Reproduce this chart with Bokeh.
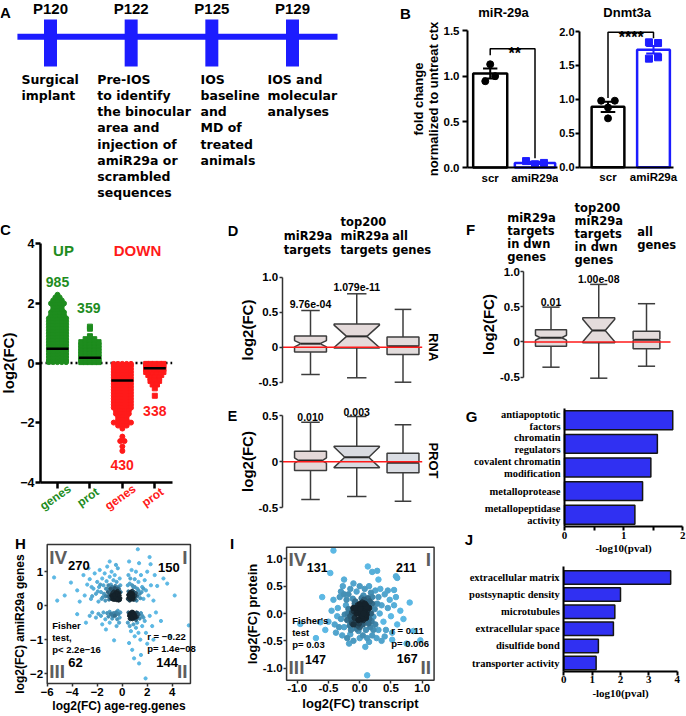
import numpy as np
from bokeh.plotting import figure
from bokeh.layouts import row, column
from bokeh.models import (Range1d, FixedTicker, Label, LabelSet, ColumnDataSource,
                          NumeralTickFormatter, LinearAxis)
from bokeh.core.properties import value, field
from bokeh.embed import file_html
from bokeh.resources import INLINE

SANS = "Liberation Sans"
VERD = "DejaVu Sans"
SERIF = "Liberation Serif"
GREEN = "#1e8c1e"
RED = "#ff1a1a"
BLUE = "#1c1cff"
BARBLUE = "#3030f2"
ROMAN = "#5e5e5e"

# ======================= DATA =======================
A_days = ["P120", "P122", "P125", "P129"]
A_steps = ["Surgical\nimplant",
           "Pre-IOS\nto identify\nthe binocular\narea and\ninjection of\namiR29a or\nscrambled\nsequences",
           "IOS\nbaseline\nand\nMD of\ntreated\nanimals",
           "IOS and\nmolecular\nanalyses"]

B_groups = ["scr", "amiR29a"]
B_mir_mean = [1.03, 0.05]
B_mir_sem = [0.055, 0.012]
B_mir_pts = [[1.13, 0.945, 1.00], [0.07, 0.035, 0.05]]
B_mir_sig = "**"
B_dnmt_mean = [0.89, 1.73]
B_dnmt_sem = [0.075, 0.056]
B_dnmt_pts = [[0.98, 0.98, 0.72, 0.88], [1.84, 1.83, 1.60, 1.62]]
B_dnmt_sig = "****"

C_labels = ["genes", "prot", "genes", "prot"]
C_counts = [985, 359, 430, 338]
C_medians = [0.48, 0.18, -0.59, -0.18]
C_up_genes_lv = [0.03, 0.1, 0.2, 0.3, 0.4, 0.5, 0.6, 0.7, 0.8, 0.9, 1.0, 1.1, 1.2, 1.3, 1.4, 1.5,
                 1.6, 1.7, 1.8, 1.9, 2.0, 2.1, 2.2, 2.29]
C_up_genes_n = [5, 5, 5, 5, 5, 5, 5, 5, 5, 5, 5, 5, 5, 5, 5, 5, 4, 4, 3, 3, 4, 3, 2, 1]
C_up_prot_lv = [0.03, 0.1, 0.2, 0.3, 0.4, 0.5, 0.6, 0.7, 0.8, 0.9, 1.15, 1.22]
C_up_prot_n = [5, 5, 5, 5, 5, 5, 5, 5, 3, 1, 1, 1]
C_dn_genes_lv = [-0.03, -0.1, -0.2, -0.3, -0.4, -0.5, -0.6, -0.7, -0.8, -0.9, -1.0, -1.1, -1.2,
                 -1.3, -1.4, -1.5, -1.6, -1.7, -1.8, -1.9, -2.0, -2.1, -2.2, -2.47, -2.62, -2.8, -2.95]
C_dn_genes_n = [5, 5, 5, 5, 5, 5, 5, 5, 5, 5, 5, 5, 5, 5, 5, 5, 4, 4, 3, 3, 5, 3, 1, 1, 2, 1, 1]
C_dn_prot_lv = [-0.03, -0.1, -0.2, -0.3, -0.4, -0.5, -0.6, -0.72, -0.85, -1.1]
C_dn_prot_n = [5, 5, 5, 5, 4, 3, 3, 2, 1, 1]

D_heads = ["miR29a\ntargets", "top200\nmiR29a\ntargets", "all\ngenes"]
D_pvals = ["9.76e-04", "1.079e-11", ""]
D_lo = [-0.39, -0.437, -0.50]
D_q1 = [-0.07, -0.01, -0.104]
D_med = [0.05, 0.155, 0.014]
D_q3 = [0.16, 0.33, 0.145]
D_hi = [0.524, 0.763, 0.54]
D_notch = [0.045, 0.16, 0.012]

E_pvals = ["0.010", "0.003", ""]
E_lo = [-0.41, -0.378, -0.43]
E_q1 = [-0.096, -0.067, -0.121]
E_med = [0.012, 0.048, -0.013]
E_q3 = [0.113, 0.167, 0.092]
E_hi = [0.427, 0.489, 0.399]
E_notch = [0.028, 0.11, 0.01]

F_heads = ["miR29a\ntargets\nin dwn\ngenes", "top200\nmiR29a\ntargets\nin dwn\ngenes", "all\ngenes"]
F_pvals = ["0.01", "1.00e-08", ""]
F_lo = [-0.358, -0.514, -0.344]
F_q1 = [-0.06, -0.011, -0.097]
F_med = [0.06, 0.163, 0.031]
F_q3 = [0.173, 0.344, 0.153]
F_hi = [0.494, 0.817, 0.543]
F_notch = [0.035, 0.16, 0.012]

G_terms = ["antiapoptotic\nfactors", "chromatin\nregulators", "covalent chromatin\nmodification",
           "metalloprotease", "metallopeptidase\nactivity"]
G_vals = [1.83, 1.57, 1.46, 1.32, 1.19]
J_terms = ["extracellular matrix", "postsynaptic density", "microtubules",
           "extracellular space", "disulfide bond", "transporter activity"]
J_vals = [3.77, 2.0, 1.80, 1.75, 1.22, 1.14]

H_quad_counts = ["270", "150", "144", "62"]
H_IV = [(-0.15, 0.22), (-0.2, 0.3), (-0.25, 0.18), (-0.3, 0.26), (-0.32, 0.35), (-0.35, 0.2), (-0.4, 0.28),
        (-0.42, 0.16), (-0.45, 0.33), (-0.48, 0.24), (-0.5, 0.4), (-0.52, 0.19), (-0.55, 0.29), (-0.58, 0.22),
        (-0.6, 0.35), (-0.62, 0.17), (-0.65, 0.27), (-0.68, 0.42), (-0.7, 0.21), (-0.72, 0.31), (-0.75, 0.18),
        (-0.78, 0.25), (-0.8, 0.37), (-0.85, 0.2), (-0.88, 0.3), (-0.9, 0.45), (-0.95, 0.24), (-1.0, 0.33),
        (-1.05, 0.18), (-1.1, 0.28), (-1.15, 0.4), (-0.22, 0.38), (-0.38, 0.44), (-0.28, 0.15), (-0.44, 0.22),
        (-0.36, 0.3), (-0.26, 0.25), (-0.18, 0.17), (-0.33, 0.21), (-0.47, 0.29), (-0.41, 0.37), (-0.56, 0.25),
        (-0.63, 0.31), (-0.29, 0.32), (-0.39, 0.19),
        (-5.45, 0.83), (-5.2, 0.15), (-4.1, 0.68), (-3.6, 0.45), (-3.1, 0.9), (-3.0, 0.3), (-2.8, 0.62),
        (-2.6, 0.78), (-2.5, 0.2), (-2.3, 0.5), (-2.2, 0.95), (-2.1, 0.35), (-2.0, 0.7), (-1.9, 0.12),
        (-1.85, 0.55), (-1.8, 1.05), (-1.7, 0.4), (-1.6, 0.8), (-1.55, 0.25), (-1.5, 0.6), (-1.4, 0.95),
        (-1.35, 0.15), (-1.3, 0.5), (-1.25, 0.72), (-1.2, 1.15), (-1.1, 0.6), (-1.0, 0.85), (-0.9, 0.62),
        (-0.85, 1.0), (-0.8, 0.55), (-0.7, 0.75), (-0.6, 0.9), (-0.55, 0.58), (-0.45, 0.7), (-0.35, 1.1),
        (-0.3, 0.55), (-0.2, 0.8), (-0.15, 0.6), (-4.6, 0.3), (-3.4, 0.12), (-2.7, 1.1), (-1.0, 1.3), (-0.5, 1.2),
        (-2.4, 0.28), (-1.95, 0.42), (-1.65, 0.2), (-1.45, 0.35), (-1.3, 0.28), (-1.2, 0.5), (-0.95, 0.5),
        (-0.75, 0.48), (-0.6, 0.52), (-0.4, 0.5), (-0.25, 0.48), (-0.12, 0.4), (-1.75, 0.62), (-2.45, 0.55)]
H_I = [(0.45, 0.2), (0.48, 0.32), (0.5, 0.42), (0.52, 0.25), (0.55, 0.17), (0.58, 0.36), (0.6, 0.28),
       (0.62, 0.21), (0.65, 0.4), (0.68, 0.3), (0.7, 0.18), (0.72, 0.25), (0.75, 0.35), (0.78, 0.22),
       (0.8, 0.44), (0.82, 0.29), (0.85, 0.19), (0.88, 0.33), (0.9, 0.24), (0.95, 0.4), (1.0, 0.2),
       (1.05, 0.3), (1.1, 0.37), (0.56, 0.3), (0.66, 0.23), (0.74, 0.42), (0.84, 0.37), (0.6, 0.15),
       (0.7, 0.34), (0.92, 0.17),
       (1.25, 1.66), (2.19, 1.43), (2.27, 1.22), (3.6, 0.65), (2.8, 0.58), (3.3, 0.8), (0.5, 0.9),
       (0.6, 0.65), (0.75, 1.05), (0.9, 0.55), (1.0, 0.78), (1.1, 1.0), (1.2, 0.5), (1.3, 0.7), (1.4, 0.35),
       (1.5, 0.9), (1.6, 0.55), (1.7, 0.2), (1.8, 0.75), (1.9, 0.45), (2.0, 1.0), (2.1, 0.3), (2.3, 0.6),
       (2.5, 0.15), (1.35, 1.25), (0.55, 1.3), (0.45, 0.6), (1.15, 0.15), (2.6, 0.9), (4.2, 0.3),
       (1.2, 0.28), (1.3, 0.45), (1.45, 0.22), (1.55, 0.4), (1.0, 0.55), (0.8, 0.6), (0.65, 0.8), (1.7, 0.5)]
H_II = [(0.5, -0.2), (0.55, -0.3), (0.6, -0.38), (0.65, -0.22), (0.7, -0.28), (0.72, -0.35), (0.75, -0.18),
        (0.8, -0.26), (0.82, -0.4), (0.85, -0.31), (0.9, -0.2), (0.95, -0.36), (1.0, -0.25), (1.05, -0.3),
        (1.1, -0.42), (1.15, -0.2), (1.2, -0.33), (1.3, -0.27), (1.4, -0.38), (1.5, -0.22), (1.6, -0.3),
        (1.7, -0.35), (0.62, -0.27), (0.68, -0.33), (0.78, -0.31), (0.88, -0.24), (0.98, -0.3), (0.73, -0.22),
        (0.58, -0.25), (0.92, -0.28), (1.08, -0.35), (0.66, -0.4), (0.84, -0.18), (1.25, -0.22), (0.77, -0.37),
        (1.87, -2.14), (2.0, -1.12), (5.33, -0.58), (0.45, -0.5), (0.6, -0.6), (0.7, -0.75), (0.9, -0.55),
        (1.0, -0.9), (1.1, -0.65), (1.2, -0.5), (1.3, -0.8), (1.45, -1.0), (1.6, -0.6), (1.8, -0.45),
        (1.9, -0.8), (2.2, -0.3), (2.4, -0.6), (2.7, -0.2), (3.1, -0.45), (0.55, -1.1), (0.8, -1.3),
        (1.5, -1.45), (1.35, -1.7), (0.95, -1.55), (2.5, -1.0), (3.8, -0.9)]
H_III = [(-0.15, -0.2), (-0.2, -0.35), (-0.3, -0.25), (-0.4, -0.4), (-0.5, -0.2), (-0.6, -0.3), (-0.7, -0.22),
         (-0.8, -0.38), (-0.9, -0.25), (-1.0, -0.18), (-1.1, -0.32), (-1.2, -0.22), (-1.35, -0.4), (-1.5, -0.2),
         (-1.7, -0.3), (-1.9, -0.24), (-2.1, -0.35), (-2.4, -0.2), (-2.6, -0.3), (-0.25, -0.5), (-0.45, -0.6),
         (-0.65, -1.02), (-1.3, -0.7), (-1.6, -0.55), (-3.6, -0.25), (-0.35, -0.15), (-0.55, -0.28),
         (-0.75, -0.3), (-1.0, -0.5), (-2.9, -0.5)]

I_quad_counts = ["131", "211", "167", "147"]
I_core = [(0.0, 0.05), (0.05, 0.1), (-0.05, 0.0), (0.1, 0.15), (-0.1, 0.1), (0.02, -0.05), (0.08, 0.02),
          (-0.08, -0.08), (0.12, 0.05), (-0.12, 0.02), (0.04, 0.2), (-0.03, 0.15), (0.15, 0.1), (-0.15, -0.05),
          (0.06, -0.12), (-0.06, -0.15), (0.1, -0.08), (-0.1, -0.2), (0.0, -0.25), (0.03, 0.28), (-0.18, 0.08),
          (0.18, 0.0), (0.2, 0.18), (-0.2, -0.12), (0.14, -0.18), (-0.02, -0.32), (0.07, 0.25), (-0.07, 0.22),
          (0.22, -0.06), (-0.22, 0.15), (0.01, 0.12), (0.09, 0.08), (-0.04, 0.06), (0.11, -0.02), (-0.09, 0.04),
          (0.03, -0.1), (-0.13, -0.12), (0.16, 0.22), (-0.16, -0.22), (0.05, -0.2), (-0.01, -0.18), (0.13, 0.28),
          (-0.11, 0.27), (0.19, -0.14), (-0.19, 0.0), (0.24, 0.08), (-0.24, -0.02), (0.06, 0.33), (-0.05, -0.28),
          (0.1, -0.3), (-0.14, -0.3), (0.17, -0.25), (0.0, 0.17), (0.07, 0.05), (-0.06, 0.1), (0.02, 0.0),
          (-0.02, -0.12), (0.12, 0.12), (-0.08, 0.18), (0.04, -0.04), (-0.12, -0.18), (0.15, -0.1), (0.08, 0.18),
          (-0.03, -0.22), (0.2, 0.3), (-0.21, 0.25), (0.25, -0.2), (-0.25, -0.25), (0.01, 0.08), (0.06, 0.0)]
I_cloud = [(-0.3, 0.4), (-0.35, 0.1), (-0.4, -0.2), (-0.28, -0.4), (-0.32, 0.3), (-0.45, 0.05), (-0.38, -0.35),
           (-0.3, -0.1), (-0.42, 0.25), (-0.27, 0.5), (-0.15, 0.45), (-0.1, 0.55), (0.0, 0.5), (0.08, 0.45),
           (0.15, 0.5), (0.25, 0.42), (0.3, 0.3), (0.35, 0.15), (0.32, 0.0), (0.38, -0.15), (0.3, -0.3),
           (0.27, -0.45), (0.4, 0.35), (0.45, 0.1), (0.5, -0.05), (0.48, 0.25), (0.55, 0.15), (0.42, -0.3),
           (0.6, -0.2), (0.35, -0.5), (0.2, -0.4), (0.12, -0.45), (0.0, -0.45), (-0.1, -0.5), (-0.2, -0.45),
           (-0.15, -0.38), (0.05, -0.4), (0.28, 0.18), (-0.25, 0.35), (0.22, -0.3), (0.33, 0.45), (-0.36, -0.05),
           (-0.5, -0.15), (0.52, -0.35), (0.45, 0.42), (0.58, 0.3), (-0.05, 0.4), (0.18, 0.38), (-0.18, 0.35),
           (0.4, -0.42), (-0.33, -0.25), (0.15, -0.52), (0.65, 0.05), (0.7, -0.1), (-0.55, -0.3)]
I_out = [(-0.42, 1.15), (-0.47, 0.74), (0.13, 0.86), (0.28, 0.78), (0.2, 0.76), (0.58, 0.68), (0.6, 0.65),
         (0.55, 0.43), (-0.95, -0.19), (-0.63, -0.16), (0.97, -0.49), (0.86, -0.32), (0.52, -0.48),
         (0.12, -1.13), (0.09, -0.61), (-0.17, -0.55), (-0.6, 0.3), (0.8, 0.2), (-0.7, -0.45), (0.75, -0.55),
         (0.3, 0.62), (-0.25, 0.62)]


# ======================= HELPERS =======================
def mkfig(X0, Y0, W, H, xmap, ymap):
    """Figure whose plotting frame fills the whole figure; xmap/ymap give two (data, page-pixel) pairs."""
    (xa, pxa), (xb, pxb) = xmap
    (ya, pya), (yb, pyb) = ymap
    kx = (xb - xa) / (pxb - pxa)
    ky = (yb - ya) / (pyb - pya)
    x0 = xa + (X0 - pxa) * kx
    x1 = xa + (X0 + W - pxa) * kx
    ytop = ya + (Y0 - pya) * ky
    ybot = ya + (Y0 + H - pya) * ky
    p = figure(width=W, height=H, x_range=Range1d(x0, x1), y_range=Range1d(ybot, ytop), title=None,
               output_backend="svg", toolbar_location=None, x_axis_location=None, y_axis_location=None,
               min_border=0)
    p.outline_line_color = None
    p.grid.visible = False
    p.background_fill_color = "white"
    p.border_fill_color = "white"

    def cv(px, py):
        return xa + (px - pxa) * kx, ya + (py - pya) * ky
    return p, cv


def sty(ax, font=SANS, size=12, lw=2.0, color="black", tout=5, stand=3, lab_size=14, lab_stand=0):
    ax.axis_line_width = lw
    ax.axis_line_color = color
    ax.major_tick_line_width = lw
    ax.major_tick_line_color = color
    ax.major_tick_out = tout
    ax.major_tick_in = 0
    ax.minor_tick_line_color = None
    ax.major_label_text_font = font
    ax.major_label_text_font_size = f"{size}px"
    ax.major_label_text_font_style = "bold"
    ax.major_label_text_color = "black"
    ax.major_label_standoff = stand
    ax.axis_label_text_font = font
    ax.axis_label_text_font_size = f"{lab_size}px"
    ax.axis_label_text_font_style = "bold"
    ax.axis_label_text_color = "black"
    ax.axis_label_standoff = lab_stand


def add_axis(p, side, loc, bounds, ticks, label=None, fmt=None, overrides=None, **kw):
    ax = LinearAxis(fixed_location=loc, bounds=bounds, ticker=FixedTicker(ticks=ticks))
    sty(ax, **kw)
    if fmt:
        ax.formatter = NumeralTickFormatter(format=fmt)
    if overrides is not None:
        ax.major_label_overrides = overrides
    if label:
        ax.axis_label = label
    p.add_layout(ax, side)
    return ax


def dlab(p, x, y, text, size, color="black", font=SANS, style="bold", align="center",
         baseline="middle", xo=0, yo=0, lh=1.0, angle=0.0):
    p.add_layout(Label(x=x, y=y, x_offset=xo, y_offset=yo, text=text, text_font=font,
                       text_font_size=f"{size}px", text_font_style=style, text_color=color,
                       text_align=align, text_baseline=baseline, text_line_height=lh, angle=angle))


def plab(p, cv, px, py, text, size, **kw):
    x, y = cv(px, py)
    dlab(p, x, y, text, size, **kw)


def boxes(p, lo, q1, med, q3, hi, notch, widths, indents, fills, caps, xl, xr):
    n = len(lo)
    idx = list(range(n))
    xs_l, ys_l = [], []
    for i in idx:
        w = widths[i] / 2
        d = indents[i]
        nl = max(q1[i], med[i] - notch[i])
        nu = min(q3[i], med[i] + notch[i])
        xs_l.append([i - w, i - w, i - w + d, i - w, i - w, i + w, i + w, i + w - d, i + w, i + w])
        ys_l.append([q1[i], nl, med[i], nu, q3[i], q3[i], nu, med[i], nl, q1[i]])
    lc = "#3c3c3c"
    p.segment(x0=idx, y0=q3, x1=idx, y1=hi, line_color=lc, line_width=1.5)
    p.segment(x0=idx, y0=lo, x1=idx, y1=q1, line_color=lc, line_width=1.5)
    p.segment(x0=[i - caps[i] for i in idx], y0=hi, x1=[i + caps[i] for i in idx], y1=hi,
              line_color=lc, line_width=1.5)
    p.segment(x0=[i - caps[i] for i in idx], y0=lo, x1=[i + caps[i] for i in idx], y1=lo,
              line_color=lc, line_width=1.5)
    p.patches(xs_l, ys_l, fill_color=fills, line_color=lc, line_width=1.5)
    p.segment(x0=[i - widths[i] / 2 + indents[i] for i in idx], y0=med,
              x1=[i + widths[i] / 2 - indents[i] for i in idx], y1=med, line_color="#2a2a2a", line_width=2)
    p.segment(x0=[xl], y0=[0], x1=[xr], y1=[0], line_color=RED, line_width=1.5)


def ramp(t):
    stops = [(0.0, (0x5c, 0xb8, 0xe4)), (0.5, (0x3a, 0x7c, 0x9e)), (1.0, (0x14, 0x22, 0x2b))]
    for (t0, c0), (t1, c1) in zip(stops[:-1], stops[1:]):
        if t <= t1:
            u = (t - t0) / (t1 - t0)
            return "#%02x%02x%02x" % tuple(int(round(c0[k] + (c1[k] - c0[k]) * u)) for k in range(3))
    return "#14222b"


def dens(pts, sx, sy, r, k):
    a = np.array(pts, dtype=float)
    X = a[:, 0] * sx
    Y = a[:, 1] * sy
    d2 = (X[:, None] - X[None, :]) ** 2 + (Y[:, None] - Y[None, :]) ** 2
    cnt = (d2 < r * r).sum(axis=1) - 1
    t = np.clip(cnt / k, 0, 1)
    order = np.argsort(t, kind="stable")
    return (list(a[order, 0]), list(a[order, 1]), [ramp(float(t[i])) for i in order])


TOP = 200          # height of the first row
ROW2 = 514 - TOP   # height of the second row's upper block

# ======================= A =======================
pA, cA = mkfig(0, 0, 360, TOP, ((0, 50), (3, 292)), ((0, 0), (100, 100)))
ia = list(range(len(A_days)))
pA.segment(x0=[ia[0] - 0.41], y0=[36.3], x1=[ia[-1] + 0.558], y1=[36.3], line_color=BLUE, line_width=6)
pA.vbar(x=ia, width=0.161, top=19, bottom=66, fill_color=BLUE, line_color=None)
pA.text(x=ia, y=[8] * len(ia), text=A_days, text_font=value(SANS), text_font_size="15px",
        text_font_style="bold", text_align="center", text_baseline="middle", text_color="black")
A_off = [-0.36, -0.42, -0.14, -0.31]
pA.text(x=[i + o for i, o in zip(ia, A_off)], y=[71] * len(ia), text=A_steps, text_font=value(VERD),
        text_font_size="12.5px", text_font_style="bold", text_align="left", text_baseline="top",
        text_line_height=1.085, text_color="black")
plab(pA, cA, 5, 12, "A", 15)

# ======================= B =======================
bcols = ["black", BLUE]
bmark = ["circle", "square"]


def bpanel(p, cv, means, sems, pts, offs, bracket_y, legs, sig, sig_x, yticks, ymax, title, title_px,
           ax_px, ax_end_px, widths, tick_size=11.5, tout=5, stand=3):
    bx = list(range(len(B_groups)))
    p.vbar(x=bx, width=widths, top=means, bottom=0, fill_color="white", line_color=bcols, line_width=2.5)
    for g in bx:
        xs = [g + o for o in offs[g]]
        p.scatter(x=xs, y=pts[g], marker=bmark[g], size=7, color=bcols[g])
        m, s = means[g], sems[g]
        p.segment(x0=[g], y0=[m - s], x1=[g], y1=[m + s], line_color=bcols[g], line_width=2)
        p.segment(x0=[g - 0.16, g - 0.16], y0=[m - s, m + s], x1=[g + 0.16, g + 0.16], y1=[m - s, m + s],
                  line_color=bcols[g], line_width=2)
    p.line(x=[bx[0], bx[0], bx[1], bx[1]], y=[legs[0], bracket_y, bracket_y, legs[1]],
           line_color="black", line_width=1.5)
    dlab(p, sig_x, bracket_y, sig, 16, baseline="alphabetic", yo=-5)
    xl = cv(ax_px, 0)[0]
    xr = cv(ax_end_px, 0)[0]
    ya = add_axis(p, "left", xl, (0, ymax), yticks, fmt="0.0", size=tick_size, lw=2, tout=tout, stand=stand,
                  lab_size=13, lab_stand=0)
    add_axis(p, "below", 0, (xl, xr), bx, overrides={g: B_groups[g] for g in bx}, size=11.5, lw=2,
             tout=0, stand=4)
    plab(p, cv, title_px, 12, title, 13, align="center")
    return ya


pB1, cB1 = mkfig(360, 0, 198, TOP, ((0, 489.7), (1, 534.5)), ((0, 167), (1.5, 30)))
yaB1 = bpanel(pB1, cB1, B_mir_mean, B_mir_sem, B_mir_pts, [[0.0, -0.11, 0.11], [-0.2, 0.0, 0.2]],
              1.30, [1.23, 0.10], B_mir_sig, 0.55, [0, 0.5, 1.0, 1.5], 1.5, "miR-29a", 503,
              467, 557, [0.76, 0.9])
yaB1.axis_label = "fold change\nnormalized to untreat ctx"
yaB1.axis_label_text_line_height = 0.99
plab(pB1, cB1, 405, 13, "B", 15)

pB2, cB2 = mkfig(558, 0, 128, TOP, ((0, 607.5), (1, 653)), ((0, 166.7), (2, 31)))
bpanel(pB2, cB2, B_dnmt_mean, B_dnmt_sem, B_dnmt_pts, [[-0.15, 0.15, 0.0, 0.0], [-0.1, 0.1, -0.1, 0.1]],
       1.99, [1.02, 1.90], B_dnmt_sig, 0.51, [0, 0.5, 1.0, 1.5, 2.0], 2.0, "Dnmt3a", 626.7,
       579, 673, [0.72, 0.72], tick_size=11, tout=4, stand=1)

# ======================= C =======================
pC, cC = mkfig(0, TOP, 228, 525 - TOP, ((0, 57), (3, 154.3)), ((4, 243.3), (-4, 481.7)))
cxl = cC(40, 0)[0]
cxr = cC(171.7, 0)[0]
pC.segment(x0=[cxl], y0=[0], x1=[cxr], y1=[0], line_color="black", line_dash="2 3", line_width=2.5)
C_sets = [(C_up_genes_lv, C_up_genes_n, "circle", GREEN), (C_up_prot_lv, C_up_prot_n, "square", GREEN),
          (C_dn_genes_lv, C_dn_genes_n, "circle", RED), (C_dn_prot_lv, C_dn_prot_n, "square", RED)]
dx = 0.133
for g, (lv, nn, mk, colr) in enumerate(C_sets):
    xs, ys = [], []
    for v, n in zip(lv, nn):
        for k in range(n):
            xs.append(g + (k - (n - 1) / 2) * dx)
            ys.append(v)
    pC.scatter(x=xs, y=ys, marker=mk, size=5, color=colr)
ig = list(range(len(C_labels)))
pC.segment(x0=[g - 0.34 for g in ig], y0=C_medians, x1=[g + 0.34 for g in ig], y1=C_medians,
           line_color="black", line_width=2.5)
add_axis(pC, "left", cxl, (-4, 4), [-4, -2, 0, 2, 4], label="log2(FC)", size=12.5, lw=2.5, tout=5,
         stand=1, lab_size=15, lab_stand=0)
add_axis(pC, "below", -4, (cxl, cxr), ig, overrides={g: "" for g in ig}, size=12, lw=2.5, tout=6, stand=2)
C_cols = [GREEN, GREEN, RED, RED]
lab_y = cC(0, 496.7)[1]
srcC = ColumnDataSource(dict(x=[g - 2 * (cC(1, 0)[0] - cC(0, 0)[0]) for g in ig], y=[lab_y] * len(ig),
                             t=C_labels, c=C_cols))
pC.add_layout(LabelSet(x="x", y="y", text="t", source=srcC, text_color=field("c"), angle=0.61,
                       text_align="center", text_baseline="middle",
                       text_font=value(SANS), text_font_size=value("12px"), text_font_style="bold"))
plab(pC, cC, 63, 250, "UP", 15, color=GREEN)
plab(pC, cC, 137, 250, "DOWN", 15, color=RED)
C_count_px = [(57, 281), (88.3, 307), (121.7, 464), (154.3, 410.7)]
for g in ig:
    plab(pC, cC, C_count_px[g][0], C_count_px[g][1], str(C_counts[g]), 14, color=C_cols[g])
plab(pC, cC, 5, 229, "C", 15)


# ======================= D / E / F =======================
def box_axis(p, loc, bounds, ticks):
    return add_axis(p, "left", loc, bounds, ticks, label="log2(FC)", fmt="0.0", overrides={0: "0"},
                    size=11.5, lw=1.5, color="#333333", tout=3, stand=1, lab_size=15, lab_stand=0)


pD, cD = mkfig(228, TOP, 212, 398 - TOP, ((0, 310), (2, 402.5)), ((1.0, 276.7), (-0.5, 381.7)))
dxl = cD(281.7, 0)[0]
dxr = cD(421.7, 0)[0]
boxes(pD, D_lo, D_q1, D_med, D_q3, D_hi, D_notch, [0.69, 0.98, 0.69], [0.14, 0.27, 0.03],
      ["#e4dada", "#e4dada", "#e2dcdc"], [0.2, 0.21, 0.18], dxl, dxr)
box_axis(pD, dxl, (-0.5, 1.0), [-0.5, 0, 0.5, 1.0])
for i, t in enumerate(D_pvals):
    if t:
        dlab(pD, i, D_hi[i], t, 10.5, baseline="bottom", yo=3)
for px, t in zip([283.3, 340, 391.7], D_heads):
    plab(pD, cD, px, 256, t, 11.5, font=VERD, align="left", baseline="bottom", lh=1.0)
plab(pD, cD, 433, 346.7, "RNA", 13, angle=-np.pi / 2)
plab(pD, cD, 232.5, 230, "D", 15)

pE, cE = mkfig(228, 398, 212, 127, ((0, 310), (2, 402.5)), ((0.5, 415), (-0.5, 507.3)))
boxes(pE, E_lo, E_q1, E_med, E_q3, E_hi, E_notch, [0.69, 0.98, 0.69], [0.09, 0.23, 0.03],
      ["#e4d8d8", "#d9dbe1", "#dadde3"], [0.2, 0.21, 0.18], dxl, dxr)
box_axis(pE, dxl, (-0.5, 0.5), [-0.5, 0, 0.5])
for i, t in enumerate(E_pvals):
    if t:
        dlab(pE, i, E_hi[i], t, 10.5, baseline="bottom", yo=1)
plab(pE, cE, 433, 460, "PROT", 13, angle=-np.pi / 2)
plab(pE, cE, 231.7, 415, "E", 15)

pF, cF = mkfig(440, TOP, 246, 398 - TOP, ((0, 550.5), (2, 646)), ((1.0, 271), (-0.5, 376.7)))
fxl = cF(523.3, 0)[0]
fxr = cF(670, 0)[0]
boxes(pF, F_lo, F_q1, F_med, F_q3, F_hi, F_notch, [0.65, 0.67, 0.56], [0.1, 0.2, 0.03],
      ["#e4dcdc", "#e4dcdc", "#e4dcdc"], [0.18, 0.18, 0.18], fxl, fxr)
box_axis(pF, fxl, (-0.5, 1.0), [-0.5, 0, 0.5, 1.0])
for i, t in enumerate(F_pvals):
    if t:
        dlab(pF, i, F_hi[i], t, 10.5, baseline="bottom", yo=1)
for px, py, t in zip([506.7, 574, 636.7], [263.5, 267, 251.7], F_heads):
    plab(pF, cF, px, py, t, 11.5, font=VERD, align="left", baseline="bottom", lh=0.94)
plab(pF, cF, 470, 229, "F", 15)


# ======================= G / J =======================
def hbars(p, terms, vals, height, xticks, ybounds, minor=None):
    n = len(terms)
    ys = [n - 1 - i for i in range(n)]
    p.hbar(y=ys, left=0, right=vals, height=height, fill_color=BARBLUE, line_color="#151515", line_width=1.5)
    ya = add_axis(p, "left", 0, ybounds, ys, overrides=dict(zip(ys, terms)), font=SERIF, size=10.5, lw=2,
                  tout=0, stand=4)
    ya.major_label_text_line_height = 1.1
    xa = add_axis(p, "below", ybounds[0], (xticks[0], xticks[-1]), xticks, label="-log10(pval)",
                  font=SERIF, size=11, lw=2, tout=4, stand=1, lab_size=11, lab_stand=0)
    if minor:
        xa.ticker = FixedTicker(ticks=xticks, minor_ticks=minor)
        xa.minor_tick_line_color = "black"
        xa.minor_tick_line_width = 2
        xa.minor_tick_out = 4
        xa.minor_tick_in = 0


pG, cG = mkfig(440, 398, 246, 158, ((0, 564), (2, 682.3)), ((4, 419.7), (0, 514.2)))
hbars(pG, G_terms, G_vals, 0.8, [0, 1, 2], (-0.5, 4.5), minor=[0.5, 1.5])
plab(pG, cG, 471, 416, "G", 15)
plab(pG, cG, 468.3, 539.3, "J", 15)

pJ, cJ = mkfig(440, 556, 246, 158, ((0, 563.3), (4, 676.7)), ((5, 577), (0, 662.5)))
hbars(pJ, J_terms, J_vals, 0.79, [0, 1, 2, 3, 4], (cJ(0, 670.5)[1], cJ(0, 566)[1]))


# ======================= H / I =======================
def scatter_frame(p, xr, yr, xticks, yticks, xlab, ylab, fmt=None, lab_size=12.5, ylab_shift=0.0):
    p.quad(left=[xr[0]], right=[xr[1]], bottom=[yr[0]], top=[yr[1]], fill_color=None,
           line_color="#333333", line_width=1.5)
    for side, loc, bnd, tk, lb in (("below", yr[0], xr, xticks, xlab),
                                   ("left", xr[0], (yr[0] - ylab_shift, yr[1]), yticks, ylab)):
        ax = add_axis(p, side, loc, bnd, tk, label=lb, fmt=fmt, size=11.5, lw=1.5, color="#333333",
                      tout=3, stand=1, lab_size=lab_size, lab_stand=0)
        ax.axis_line_color = None


def quad_text(p, xr, yr, counts, pos, size):
    dlab(p, xr[0], yr[1], "IV", 19, ROMAN, align="left", baseline="top", xo=2, yo=-2)
    dlab(p, xr[1], yr[1], "I", 19, ROMAN, align="right", baseline="top", xo=-3, yo=-2)
    dlab(p, xr[1], yr[0], "II", 19, ROMAN, align="right", baseline="bottom", xo=-3, yo=2)
    dlab(p, xr[0], yr[0], "III", 19, ROMAN, align="left", baseline="bottom", xo=2, yo=2)
    for (x, y), t in zip(pos, counts):
        dlab(p, x, y, t, size)


H_xr, H_yr = (-6, 5.46), (-2.29, 1.80)
pH, cH = mkfig(0, 525, 228, 189, ((-6, 46.7), (4, 171.7)), ((1.80, 544), (-2.29, 683)))
hx, hy, hc = dens(H_IV + H_I + H_II + H_III, 12.5, 34.0, 4.5, 14)
pH.scatter(x=hx, y=hy, size=3.2, color=hc, marker="circle")
scatter_frame(pH, H_xr, H_yr, [-6, -4, -2, 0, 2, 4], [-2, -1, 0, 1], "log2(FC) age-reg.genes",
              "log2(FC) amiR29a genes", lab_size=12, ylab_shift=0.6)
quad_text(pH, H_xr, H_yr, H_quad_counts, [(-3.46, 1.17), (3.74, 1.12), (3.6, -1.68), (-3.73, -1.68)], 13)
dlab(pH, -5.6, -0.415, "Fisher\ntest,\np< 2.2e\u221216", 9.5, align="left", baseline="top", lh=1.1)
dlab(pH, 2.0, -0.757, "r = \u22120.22\np= 1.4e\u221208", 9.5, align="left", baseline="top", lh=1.1)
plab(pH, cH, 20, 542.7, "H", 15)

I_xr, I_yr = (-1.17, 1.19), (-1.22, 1.21)
pI, cI = mkfig(228, 525, 212, 189, ((-1, 296.7), (1, 421.7)), ((1, 558.3), (-1, 667.7)))
ix, iy, icol = dens(I_core + I_cloud + I_out, 62.5, 54.7, 7, 12)
pI.scatter(x=ix, y=iy, size=5.5, color=icol, marker="circle")
scatter_frame(pI, I_xr, I_yr, [-1, -0.5, 0, 0.5, 1], [-1, -0.5, 0, 0.5, 1], "log2(FC) transcript",
              "log2(FC) protein", fmt="0.0", lab_size=13)
quad_text(pI, I_xr, I_yr, I_quad_counts, [(-0.68, 0.85), (0.744, 0.85), (0.76, -0.826), (-0.707, -0.845)], 12.5)
dlab(pI, -1.08, -0.02, "Fisher's\ntest\np= 0.03", 9.5, align="left", baseline="top", lh=1.13)
dlab(pI, 0.504, -0.216, "r = 0.11\np= 0.006", 9.5, align="left", baseline="top", lh=1.13)
plab(pI, cI, 231.5, 542.5, "I", 15)

# ======================= LAYOUT =======================
layout = column(
    row(pA, pB1, pB2, spacing=0),
    row(column(pC, pH, spacing=0), column(pD, pE, pI, spacing=0), column(pF, pG, pJ, spacing=0), spacing=0),
    spacing=0)

open("out.html", "w").write(file_html(layout, INLINE, title="Figure"))
